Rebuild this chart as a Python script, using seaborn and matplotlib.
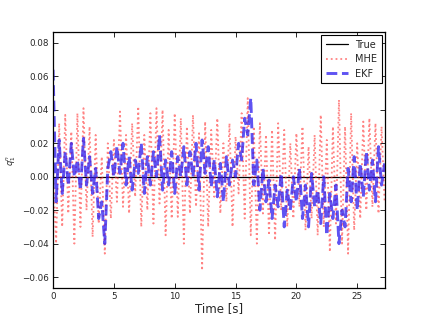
import numpy as np
import pandas as pd
import matplotlib
matplotlib.use("Agg")
import matplotlib.pyplot as plt
import seaborn as sns

# ---- data ----
dt = 0.25
true_t = [0.0, 27.3]
true_q = [0.0, 0.0]

mhe_pairs = [
    (0.005, -0.040), (0.032, -0.030), (0.037, -0.022), (0.027, -0.040),
    (0.038, -0.030), (0.041, -0.020), (0.030, -0.036), (0.025, -0.028),
    (0.012, -0.046), (0.020, -0.025), (0.022, -0.015), (0.039, -0.018),
    (0.025, -0.022), (0.032, -0.012), (0.042, -0.030), (0.025, -0.020),
    (0.038, -0.028), (0.041, -0.016), (0.040, -0.035), (0.028, -0.025),
    (0.038, -0.024), (0.035, -0.040), (0.030, -0.022), (0.037, -0.018),
    (0.026, -0.056), (0.033, -0.030), (0.028, -0.012), (0.035, -0.022),
    (0.020, -0.015), (0.032, -0.030), (0.024, -0.010), (0.038, -0.025),
    (0.047, -0.035), (0.030, -0.040), (0.032, -0.022), (0.025, -0.035),
    (0.028, -0.038), (0.032, -0.020), (0.028, -0.030), (0.020, -0.025),
    (0.026, -0.018), (0.030, -0.032), (0.018, -0.025), (0.025, -0.035),
    (0.037, -0.030), (0.022, -0.045), (0.030, -0.028), (0.046, -0.040),
    (0.030, -0.046), (0.038, -0.032), (0.020, -0.025), (0.033, -0.020),
    (0.035, -0.018), (0.032, -0.022), (0.030, -0.015),
]
mhe_q = [v for pair in mhe_pairs for v in pair]

ekf_q = [
    0.064, -0.015, 0.022, -0.010, 0.015, -0.005, 0.020, 0.000,
    0.010, -0.008, 0.023, -0.005, 0.012, -0.010, 0.005, -0.025,
    -0.015, -0.040, 0.005, 0.015, 0.000, 0.018, 0.002, 0.020,
    -0.005, 0.012, -0.008, 0.010, 0.002, 0.020, -0.010, 0.012,
    -0.005, 0.015, 0.000, 0.025, -0.008, 0.010, -0.005, 0.015,
    -0.010, 0.012, 0.000, 0.018, -0.005, 0.015, 0.000, 0.020,
    -0.008, 0.022, 0.002, 0.018, -0.006, 0.010, -0.012, 0.008,
    -0.015, 0.012, -0.005, 0.010, 0.000, 0.020, 0.010, 0.035,
    0.025, 0.047, -0.005, 0.010, -0.020, 0.005, -0.015, -0.002,
    -0.025, -0.005, -0.018, 0.002, -0.030, -0.008, -0.020, 0.000,
    -0.015, 0.005, -0.025, -0.005, -0.030, 0.002, -0.018, -0.008,
    -0.028, 0.000, -0.035, -0.010, -0.025, -0.005, -0.040, -0.020,
    -0.030, 0.005, -0.015, 0.012, -0.020, 0.008, -0.012, 0.015,
    -0.008, 0.010, -0.015, 0.018, -0.005, 0.008,
]

mhe_t = np.arange(len(mhe_q)) * dt
ekf_t = np.arange(len(ekf_q)) * dt

x_ticks = [0, 5, 10, 15, 20, 25]
y_ticks = [-0.06, -0.04, -0.02, 0.00, 0.02, 0.04, 0.06, 0.08]

# ---- style ----
sns.set_style("white", {"xtick.direction": "in", "ytick.direction": "in",
                        "axes.edgecolor": "black"})
plt.rcParams["font.family"] = ["DejaVu Sans"]

fig = plt.figure(figsize=(4.28, 3.21), dpi=100)
ax = fig.add_axes([0.124, 0.103, 0.776, 0.797])

sns.lineplot(x=true_t, y=true_q, ax=ax, color="black", linewidth=0.9,
             label="True", estimator=None)
sns.lineplot(x=mhe_t, y=mhe_q, ax=ax, color="#ff3030", linewidth=1.3,
             linestyle=":", alpha=0.6, label="MHE", estimator=None)
sns.lineplot(x=ekf_t, y=ekf_q, ax=ax, color="#2a1aee", linewidth=2.1,
             linestyle="--", alpha=0.75, label="EKF", estimator=None)

ax.set_xlim(0, 27.3)
ax.set_ylim(-0.0665, 0.0865)
ax.set_xticks(x_ticks)
ax.set_yticks(y_ticks)
ax.set_yticklabels([f"{v:.2f}".replace("-", "\u2212") for v in y_ticks])
ax.tick_params(axis="both", which="both", labelsize=6.3, length=3.5,
               width=0.7, top=True, right=True, bottom=True, left=True,
               direction="in", pad=3)
for s in ax.spines.values():
    s.set_linewidth(0.9)
    s.set_color("black")

ax.set_xlabel("Time [s]", fontsize=8.5, labelpad=1)
ax.set_ylabel(r"$q_1^n$", fontsize=6, labelpad=3)

leg = ax.legend(loc="upper right", fontsize=7, frameon=True, fancybox=False,
                edgecolor="black", framealpha=1, handlelength=2.2,
                borderpad=0.5, labelspacing=0.45, borderaxespad=0.3)
leg.get_frame().set_linewidth(0.8)

fig.savefig("out.png", dpi=100)
